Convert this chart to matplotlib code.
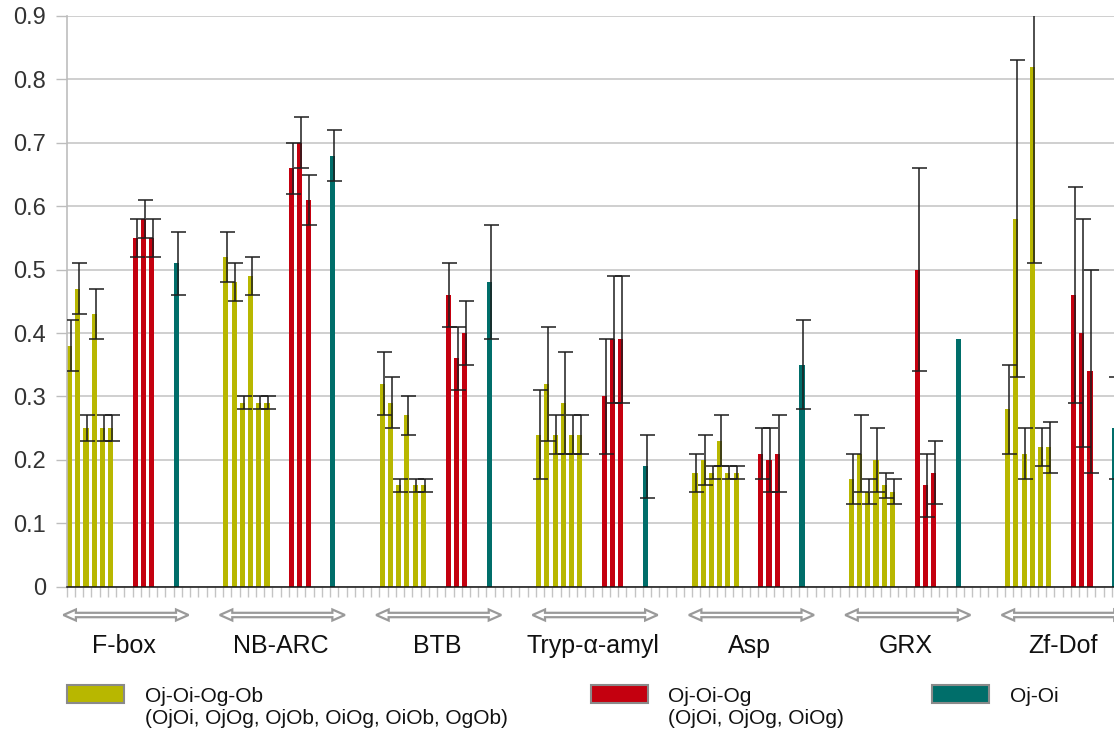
import numpy as np
import matplotlib
matplotlib.use("Agg")
import matplotlib.pyplot as plt
from matplotlib.patches import Polygon, Rectangle
from matplotlib.transforms import blended_transform_factory

plt.rcParams['font.family'] = ['Liberation Sans', 'DejaVu Sans']

# ---------------- data ----------------
categories = ["F-box", "NB-ARC", "BTB", "Tryp-α-amyl", "Asp", "GRX", "Zf-Dof"]

# Oj-Oi-Og-Ob (six pairwise comparisons per domain)
four_way = [
    [0.38, 0.47, 0.25, 0.43, 0.25, 0.25],
    [0.52, 0.48, 0.29, 0.49, 0.29, 0.29],
    [0.32, 0.29, 0.16, 0.27, 0.16, 0.16],
    [0.24, 0.32, 0.24, 0.29, 0.24, 0.24],
    [0.18, 0.20, 0.18, 0.23, 0.18, 0.18],
    [0.17, 0.21, 0.15, 0.20, 0.16, 0.15],
    [0.28, 0.58, 0.21, 0.82, 0.22, 0.22],
]
four_way_err = [
    [0.04, 0.04, 0.02, 0.04, 0.02, 0.02],
    [0.04, 0.03, 0.01, 0.03, 0.01, 0.01],
    [0.05, 0.04, 0.01, 0.03, 0.01, 0.01],
    [0.07, 0.09, 0.03, 0.08, 0.03, 0.03],
    [0.03, 0.04, 0.01, 0.04, 0.01, 0.01],
    [0.04, 0.06, 0.02, 0.05, 0.02, 0.02],
    [0.07, 0.25, 0.04, 0.31, 0.03, 0.04],
]

# Oj-Oi-Og (three pairwise comparisons per domain)
three_way = [
    [0.55, 0.58, 0.55],
    [0.66, 0.70, 0.61],
    [0.46, 0.36, 0.40],
    [0.30, 0.39, 0.39],
    [0.21, 0.20, 0.21],
    [0.50, 0.16, 0.18],
    [0.46, 0.40, 0.34],
]
three_way_err = [
    [0.03, 0.03, 0.03],
    [0.04, 0.04, 0.04],
    [0.05, 0.05, 0.05],
    [0.09, 0.10, 0.10],
    [0.04, 0.05, 0.06],
    [0.16, 0.05, 0.05],
    [0.17, 0.18, 0.16],
]

# Oj-Oi (one comparison per domain)
two_way = [0.51, 0.68, 0.48, 0.19, 0.35, 0.39, 0.25]
two_way_err = [0.05, 0.04, 0.09, 0.05, 0.07, 0.00, 0.08]

series_names = ["Oj-Oi-Og-Ob", "Oj-Oi-Og", "Oj-Oi"]
series_subs = ["(OjOi, OjOg, OjOb, OiOg, OiOb, OgOb)", "(OjOi, OjOg, OiOg)", ""]
y_tick_values = [0, 0.1, 0.2, 0.3, 0.4, 0.5, 0.6, 0.7, 0.8, 0.9]
y_tick_labels = ["0", "0.1", "0.2", "0.3", "0.4", "0.5", "0.6", "0.7", "0.8", "0.9"]

# ---------------- style / layout ----------------
colors = ["#b8b700", "#c4000f", "#006e6a"]
W, H = 1114, 738
GROUP = 19
offsets = [np.arange(6), np.arange(8, 11), np.array([13])]
bar_w = 0.62
bar_shift = -0.16

fig = plt.figure(figsize=(W / 100, H / 100), dpi=100)
ax_left, ax_right, ax_top, ax_bottom = 66.7, 1114, 16, 586.7
ax = fig.add_axes([ax_left / W, 1 - ax_bottom / H,
                   (ax_right - ax_left) / W, (ax_bottom - ax_top) / H])

series_vals = [four_way, three_way, [[v] for v in two_way]]
series_errs = [four_way_err, three_way_err, [[e] for e in two_way_err]]

for s in range(3):
    for g in range(len(categories)):
        x = g * GROUP + offsets[s]
        v = np.array(series_vals[s][g], dtype=float)
        e = np.array(series_errs[s][g], dtype=float)
        ax.bar(x + bar_shift, v, width=bar_w, color=colors[s], zorder=2)
        m = e > 0
        if m.any():
            ax.errorbar(x[m], v[m], yerr=e[m], fmt='none', ecolor='#1e1e1e',
                        elinewidth=1.1, capsize=5.4, capthick=1.1, zorder=3)

n_slots = GROUP * len(categories)
slot_px = 8.23

ax.set_yticks(y_tick_values)
ax.set_yticklabels(y_tick_labels)
ax.tick_params(axis='y', which='major', length=8, width=1, color='#bdbdbd',
               labelsize=17, labelcolor='#333333', pad=7)
ax.yaxis.grid(True, color='#cccccc', linewidth=1.3)
ax.set_axisbelow(True)

ax.set_xticks([])
ax.set_xticks(np.arange(n_slots + 1) - 0.5, minor=True)
ax.tick_params(axis='x', which='minor', length=7.5, width=1, color='#c4c4c4',
               labelbottom=False)

ax.set_xlim(-0.5, -0.5 + (ax_right - ax_left) / slot_px)
ax.set_ylim(0, 0.9)

for sp in ['top', 'right']:
    ax.spines[sp].set_visible(False)
ax.spines['left'].set_color('#bdbdbd')
ax.spines['left'].set_linewidth(1.2)
ax.spines['bottom'].set_color('#111111')
ax.spines['bottom'].set_linewidth(1.1)

# ---------------- group arrows and labels ----------------
trans = blended_transform_factory(ax.transData, fig.transFigure)
arrow_y = 1 - 615 / H
hh = 5.5 / H      # head half height
sh = 2.2 / H      # shaft half height
hl = 12.5 / slot_px  # head length in slots
for g, name in enumerate(categories):
    c = g * GROUP + 6.7
    x0, x1 = c - 7.6, c + 7.6
    pts = [(x0, arrow_y), (x0 + hl, arrow_y + hh), (x0 + hl, arrow_y + sh),
           (x1 - hl, arrow_y + sh), (x1 - hl, arrow_y + hh), (x1, arrow_y),
           (x1 - hl, arrow_y - hh), (x1 - hl, arrow_y - sh),
           (x0 + hl, arrow_y - sh), (x0 + hl, arrow_y - hh)]
    poly = Polygon(pts, closed=True, transform=trans, facecolor='white',
                   edgecolor='#9a9a9a', linewidth=1.6, clip_on=False)
    fig.add_artist(poly)
    fig.text(g * GROUP + 6.5, 1 - 646 / H, name, transform=trans, fontsize=18,
             color='#111111', ha='center', va='center')

# ---------------- legend ----------------
leg_patch_x = [67, 591, 932]
leg_text_x = [145, 668, 1010]
for s in range(3):
    rect = Rectangle((leg_patch_x[s] / W, 1 - 703 / H), 57 / W, 18 / H,
                     transform=fig.transFigure, facecolor=colors[s],
                     edgecolor='#8a8a8a', linewidth=1.5)
    fig.add_artist(rect)
    fig.text(leg_text_x[s] / W, 1 - 696 / H, series_names[s], fontsize=15,
             color='#111111', ha='left', va='center')
    if series_subs[s]:
        fig.text(leg_text_x[s] / W, 1 - 719 / H, series_subs[s], fontsize=15,
                 color='#111111', ha='left', va='center')

fig.savefig("out.png", dpi=100)
